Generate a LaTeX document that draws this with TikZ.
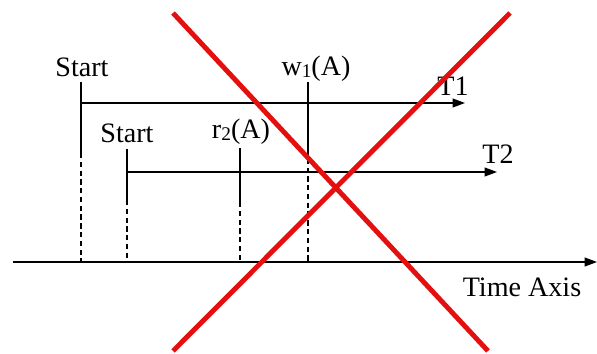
\documentclass[tikz,border=0pt]{standalone}
\usepackage{fontspec}
\setmainfont{Liberation Serif}
\usetikzlibrary{arrows.meta, positioning}

\definecolor{crossred}{RGB}{228,16,16}
\newcommand{\idx}[1]{\raisebox{-1pt}{\fontsize{11}{11}\selectfont #1}}

\begin{document}
\begin{tikzpicture}[x=0.02cm, y=0.02cm,
    every node/.style={font=\fontsize{16}{18}\selectfont, inner sep=1pt},
    timeline/.style={-{Triangle[length=7pt, width=5pt]}, line width=0.8pt},
    solidtick/.style={line width=0.8pt},
    dashtick/.style={line width=0.8pt, dash pattern=on 3pt off 2pt},
    cross/.style={crossred, line width=2.8pt}]
    \useasboundingbox (0,0) rectangle (597,354);

    % Time axis
    \coordinate (axisL) at (13,92);
    \coordinate (axisR) at (597,92);
    \draw[timeline] (axisL) -- (axisR);
    \node (axis) at (522,67) {Time Axis};

    % Labels
    \node (s1) at (82,287) {Start};
    \node (w1) at (316,285) {w\idx{1}(A)};
    \node (s2) at (127,221) {Start};
    \node (r2) at (241,222) {r\idx{2}(A)};
    \node (t1lab) at (453,268) {T1};
    \node (t2lab) at (498,200) {T2};

    % Event marks: solid part, then dashed down to the axis
    \coordinate (s1top) at (81,272);
    \coordinate (w1top) at (308,272);
    \coordinate (s2top) at (127,205);
    \coordinate (r2top) at (240,206);
    \draw[solidtick] (s1top) -- ++(0,-71) coordinate (s1mid);
    \draw[dashtick] (s1mid) -- (s1top |- axisL);
    \draw[solidtick] (w1top) -- ++(0,-68) coordinate (w1mid);
    \draw[dashtick] (w1mid) -- (w1top |- axisL);
    \draw[solidtick] (s2top) -- ++(0,-51) coordinate (s2mid);
    \draw[dashtick] (s2mid) -- (s2top |- axisL);
    \draw[solidtick] (r2top) -- ++(0,-54) coordinate (r2mid);
    \draw[dashtick] (r2mid) -- (r2top |- axisL);

    % Transactions
    \coordinate (t1) at (81,251);
    \coordinate (t1end) at (465,251);
    \draw[timeline] (t1) -- (t1end);
    \coordinate (t2) at (127,182);
    \coordinate (t2end) at (497,182);
    \draw[timeline] (t2) -- (t2end);

    % Cross
    \draw[cross] (173,341) -- (488,3);
    \draw[cross] (510,341) -- (173,3);
\end{tikzpicture}
\end{document}
